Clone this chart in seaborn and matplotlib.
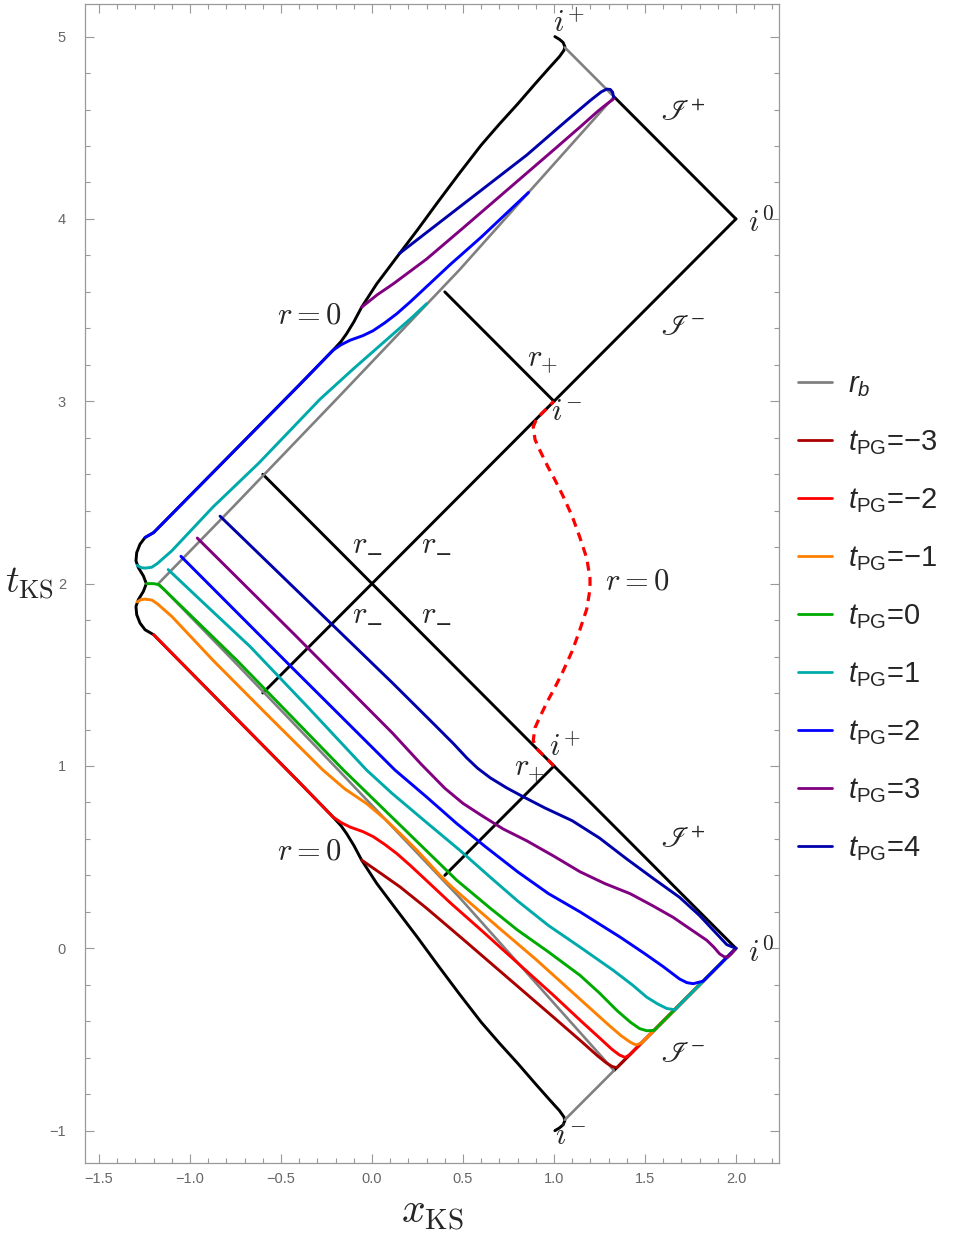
import numpy as np
import matplotlib
matplotlib.use('Agg')
import matplotlib.pyplot as plt
from matplotlib.lines import Line2D
from matplotlib.ticker import FuncFormatter
import seaborn as sns

# ---- data (x_KS, t_KS) ----
# left r = 0 curve (black), from i+ down to i-
r0_x = [1.005, 1.030, 1.050, 1.060, 1.055, 1.030, 0.980, 0.900, 0.800, 0.700, 0.600, 0.480, 0.360, 0.250,
        0.136, 0.026, -0.057, -0.100, -0.140, -0.170, -0.214, -0.396,
        -1.200, -1.247, -1.275, -1.293, -1.297, -1.284, -1.256, -1.240,
        -1.256, -1.284, -1.297, -1.293, -1.275, -1.247, -1.200,
        -0.396, -0.214, -0.170, -0.140, -0.100, -0.057, 0.026, 0.136,
        0.250, 0.360, 0.480, 0.600, 0.700, 0.800, 0.900, 0.980, 1.030, 1.055, 1.060, 1.050, 1.030, 1.005]
r0_t = [5.000, 4.985, 4.968, 4.945, 4.925, 4.890, 4.835, 4.745, 4.630, 4.520, 4.405, 4.250, 4.090, 3.940,
        3.790, 3.644, 3.516, 3.435, 3.370, 3.328, 3.280, 3.093,
        2.280, 2.253, 2.216, 2.170, 2.125, 2.088, 2.042, 2.000,
        1.958, 1.912, 1.875, 1.830, 1.784, 1.747, 1.720,
        0.907, 0.720, 0.672, 0.630, 0.565, 0.484, 0.356, 0.210,
        0.060, -0.090, -0.250, -0.405, -0.520, -0.630, -0.745, -0.835, -0.890, -0.925, -0.945, -0.968, -0.985, -1.000]

# boundary r_b (gray)
rb_x = [1.060, 1.330, 0.480, -0.185, -0.764, -1.174, -0.764, -0.185, 0.480, 1.330, 1.060]
rb_t = [-0.940, -0.670, 0.280, 0.978, 1.580, 2.000, 2.420, 3.022, 3.720, 4.670, 4.940]

# horizons and null infinities (black straight segments)
seg_x = [[-0.6, 2.0], [-0.6, 2.0], [0.4, 1.0], [0.4, 1.0], [2.0, 1.33], [2.0, 1.33]]
seg_t = [[1.4, 4.0], [2.6, 0.0], [0.4, 1.0], [3.6, 3.0], [4.0, 4.67], [0.0, -0.67]]

# right r = 0 (red dashed)
r0b_x = [1.000, 0.950, 0.905, 0.886, 0.896, 0.923, 0.967, 1.005, 1.050, 1.100, 1.140, 1.180, 1.198,
         1.198, 1.180, 1.140, 1.100, 1.050, 1.005, 0.967, 0.923, 0.896, 0.886, 0.905, 0.950, 1.000]
r0b_t = [1.000, 1.050, 1.095, 1.140, 1.210, 1.270, 1.360, 1.430, 1.520, 1.630, 1.740, 1.860, 1.970,
         2.030, 2.140, 2.260, 2.370, 2.480, 2.570, 2.640, 2.730, 2.790, 2.860, 2.905, 2.950, 3.000]

# PG time slices
tpg_values = [-3, -2, -1, 0, 1, 2, 3, 4]
tpg_colors = ['#aa0000', '#ff0000', '#ff8000', '#00aa00', '#00aaaa', '#0000ff', '#800080', '#0000aa']

low_x = {
    -3: [-0.057, 0.050, 0.154, 0.300, 0.500, 0.750, 1.000, 1.150, 1.240, 1.290, 1.320, 1.345, 2.000],
    -2: [-1.200, -0.396, -0.214, -0.170, -0.120, -0.050, 0.006, 0.070, 0.136, 0.210, 0.280, 0.355, 0.430,
         0.600, 0.800, 1.000, 1.150, 1.260, 1.320, 1.360, 1.390, 1.415, 2.000],
    -1: [-1.290, -1.270, -1.247, -1.210, -1.180, -1.100, -0.874, -0.570, -0.270, -0.150, -0.030, 0.070,
         0.154, 0.245, 0.310, 0.374, 0.430, 0.480, 0.700, 0.900, 1.100, 1.300, 1.370, 1.420, 1.450, 1.480, 2.000],
    0: [-1.240, -1.200, -1.174, -1.150, -0.743, -0.157, 0.150, 0.465, 0.650, 0.800, 0.970, 1.143, 1.250,
        1.345, 1.420, 1.470, 1.510, 1.550, 2.000],
    1: [-1.120, -0.900, -0.670, -0.350, -0.030, 0.110, 0.300, 0.480, 0.650, 0.800, 0.970, 1.143, 1.325,
        1.430, 1.510, 1.570, 1.620, 1.665, 1.690, 2.000],
    2: [-1.050, -0.450, 0.126, 0.300, 0.465, 0.620, 0.800, 0.970, 1.143, 1.363, 1.500, 1.600, 1.690,
        1.730, 1.765, 1.800, 1.820, 2.000],
    3: [-0.960, -0.420, 0.113, 0.270, 0.400, 0.500, 0.600, 0.720, 0.850, 1.000, 1.143, 1.280, 1.418,
        1.540, 1.655, 1.750, 1.840, 1.880, 1.910, 1.935, 1.955, 1.975, 2.000],
    4: [-0.835, 0.113, 0.350, 0.450, 0.520, 0.580, 0.650, 0.740, 0.824, 0.950, 1.100, 1.250, 1.400,
        1.550, 1.690, 1.800, 1.875, 1.950, 2.000],
}
low_t = {
    -3: [0.484, 0.410, 0.337, 0.220, 0.050, -0.165, -0.380, -0.510, -0.590, -0.630, -0.648, -0.655, 0.000],
    -2: [1.720, 0.907, 0.720, 0.690, 0.665, 0.640, 0.613, 0.570, 0.520, 0.455, 0.390, 0.320, 0.250,
         0.100, -0.080, -0.260, -0.400, -0.500, -0.555, -0.585, -0.598, -0.585, 0.000],
    -1: [1.900, 1.912, 1.915, 1.910, 1.890, 1.820, 1.580, 1.275, 0.978, 0.875, 0.794, 0.710,
         0.630, 0.540, 0.470, 0.400, 0.345, 0.300, 0.110, -0.060, -0.240, -0.420, -0.480, -0.515, -0.530, -0.520, 0.000],
    0: [2.000, 2.000, 1.995, 1.975, 1.580, 0.978, 0.680, 0.374, 0.220, 0.100, -0.020, -0.148, -0.245,
        -0.340, -0.405, -0.440, -0.452, -0.450, 0.000],
    1: [2.077, 1.870, 1.655, 1.320, 0.978, 0.850, 0.690, 0.540, 0.390, 0.260, 0.125, 0.007, -0.120,
        -0.200, -0.268, -0.305, -0.330, -0.337, -0.310, 0.000],
    2: [2.150, 1.550, 0.978, 0.830, 0.685, 0.560, 0.420, 0.300, 0.200, 0.062, -0.030, -0.100, -0.168,
        -0.188, -0.194, -0.185, -0.180, 0.000],
    3: [2.250, 1.715, 1.180, 1.010, 0.878, 0.795, 0.730, 0.655, 0.590, 0.505, 0.420, 0.355, 0.300,
        0.235, 0.170, 0.105, 0.044, 0.005, -0.030, -0.046, -0.048, -0.030, 0.000],
    4: [2.370, 1.455, 1.220, 1.120, 1.045, 0.988, 0.935, 0.880, 0.835, 0.770, 0.700, 0.605, 0.490,
        0.380, 0.280, 0.180, 0.100, 0.020, 0.000],
}
up_x = {
    1: [-1.290, -1.270, -1.247, -1.210, -1.180, -1.100, -0.874, -0.623, -0.450, -0.286, -0.100, 0.100,
        0.220, 0.300],
    2: [-1.247, -1.200, -0.396, -0.214, -0.170, -0.120, -0.050, 0.006, 0.070, 0.136, 0.210, 0.280, 0.355,
        0.430, 0.600, 0.860],
    3: [-0.057, 0.030, 0.117, 0.300, 0.500, 0.750, 1.000, 1.150, 1.240, 1.290, 1.320, 1.328],
    4: [0.150, 0.500, 0.850, 1.070, 1.200, 1.260, 1.290, 1.310, 1.322, 1.328],
}
up_t = {
    1: [2.100, 2.088, 2.085, 2.090, 2.110, 2.180, 2.420, 2.660, 2.840, 3.011, 3.180, 3.355,
        3.460, 3.535],
    2: [2.253, 2.280, 3.093, 3.280, 3.310, 3.335, 3.360, 3.387, 3.430, 3.480, 3.545, 3.610, 3.680,
        3.750, 3.900, 4.145],
    3: [3.516, 3.585, 3.644, 3.780, 3.950, 4.165, 4.380, 4.510, 4.590, 4.630, 4.652, 4.660],
    4: [3.810, 4.080, 4.350, 4.540, 4.650, 4.697, 4.712, 4.710, 4.695, 4.668],
}

# diagram labels
lab_text = [r'$i^{+}$', r'$i^{0}$', r'$r=0$', r'$r_{+}$', r'$i^{-}$', r'$r=0$',
            r'$i^{+}$', r'$r_{+}$', r'$r=0$', r'$i^{0}$', r'$i^{-}$']
lab_x = [1.082, 2.137, -0.346, 0.940, 1.066, 1.460, 1.060, 0.864, -0.346, 2.137, 1.093]
lab_t = [5.070, 3.975, 3.470, 3.225, 2.940, 2.010, 1.100, 0.983, 0.533, -0.025, -1.030]
# r_- labels: letter and subscript minus
rm_x = [-0.066, 0.313, -0.066, 0.313]
rm_t = [2.214, 2.214, 1.830, 1.830]
scri_text = [r'$\mathscr{I}^{+}$', r'$\mathscr{I}^{-}$', r'$\mathscr{I}^{+}$', r'$\mathscr{I}^{-}$']
scri_x = [1.709, 1.709, 1.709, 1.709]
scri_t = [4.577, 3.410, 0.593, -0.580]

# ---- style ----
sns.set_style('ticks')
plt.rcParams['font.family'] = ['Liberation Sans', 'DejaVu Sans']
plt.rcParams['mathtext.fontset'] = 'custom'
plt.rcParams['mathtext.rm'] = 'Liberation Sans'
plt.rcParams['mathtext.it'] = 'Liberation Sans:italic'
plt.rcParams['mathtext.bf'] = 'Liberation Sans:bold'
plt.rcParams['lines.solid_capstyle'] = 'round'
plt.rcParams['lines.solid_joinstyle'] = 'round'

fig = plt.figure(figsize=(9.55, 12.36), dpi=100)
ax = fig.add_axes([0.0894, 0.0588, 0.7260, 0.9380])


def draw(xs, ts, color, lw=2.1, z=3):
    sns.lineplot(x=xs, y=ts, sort=False, estimator=None, color=color,
                 linewidth=lw, ax=ax, zorder=z, legend=False)


for sx, st in zip(seg_x, seg_t):
    draw(sx, st, 'black', z=2)
draw(r0_x, r0_t, 'black', z=2)
draw(rb_x, rb_t, '#808080', lw=1.9, z=2.5)
draw(r0b_x, r0b_t, '#ff0000', lw=2.3, z=4)
ax.lines[-1].set_linestyle((0, (2.8, 2.0)))

for k, c in zip(tpg_values, tpg_colors):
    draw(low_x[k], low_t[k], c, z=3)
for k, c in zip(tpg_values, tpg_colors):
    if k in up_x:
        draw(up_x[k], up_t[k], c, z=3)

for s, x, t in zip(lab_text, lab_x, lab_t):
    ax.text(x, t, s, fontsize=22, ha='center', va='center', math_fontfamily='cm', zorder=5)
for x, t in zip(rm_x, rm_t):
    ax.text(x, t, r'$r$', fontsize=22, ha='center', va='center', math_fontfamily='cm', zorder=5)
    ax.text(x + 0.082, t - 0.062, '\u2212', fontsize=15, ha='center', va='center',
            family='DejaVu Serif', zorder=5)
for s, x, t in zip(scri_text, scri_x, scri_t):
    ax.text(x, t, s, fontsize=21, ha='center', va='center', math_fontfamily='stix', zorder=5)

# ---- axes ----
ax.set_xlim(-1.575, 2.235)
ax.set_ylim(-1.179, 5.179)
ax.set_xticks(np.arange(-1.5, 2.01, 0.5))
ax.set_xticks(np.arange(-1.5, 2.21, 0.1), minor=True)
ax.set_yticks(np.arange(-1, 5.01, 1))
ax.set_yticks(np.arange(-1.0, 5.01, 0.2), minor=True)
fmt = lambda d: FuncFormatter(lambda v, p: f'{v:.{d}f}'.replace('-', '\u2212'))
ax.xaxis.set_major_formatter(fmt(1))
ax.yaxis.set_major_formatter(fmt(0))
ax.tick_params(which='both', direction='in', top=True, right=True, color='#999999',
               width=0.8, labelcolor='#666666', labelsize=10.5)
ax.tick_params(which='major', length=6.5)
ax.tick_params(which='minor', length=3.6)
ax.tick_params(axis='x', pad=6)
ax.tick_params(axis='y', pad=14)
for sp in ax.spines.values():
    sp.set_color('#999999')
    sp.set_linewidth(0.9)

ax.set_xlabel(r'$x_{\rm KS}$', fontsize=30, math_fontfamily='cm', va='center', ha='center')
ax.set_ylabel(r'$t_{\rm KS}$', fontsize=27, math_fontfamily='cm', rotation=0, va='center', ha='center')
ax.xaxis.set_label_coords(0.4999, -0.0429)
ax.yaxis.set_label_coords(-0.081, 0.5)

# ---- legend ----
handles = [Line2D([], [], color='#808080', lw=2)] + [Line2D([], [], color=c, lw=2) for c in tpg_colors]
labels = [r'$r_b$'] + [r'$t_{\mathrm{PG}}$=' + str(k).replace('-', '\u2212') for k in tpg_values]
fig.legend(handles, labels, loc='center left', bbox_to_anchor=(0.8356, 0.501), frameon=False,
           fontsize=21, borderpad=0, borderaxespad=0, handlelength=1.16, handletextpad=0.55,
           labelspacing=1.0)

fig.savefig('out.png', dpi=100)
